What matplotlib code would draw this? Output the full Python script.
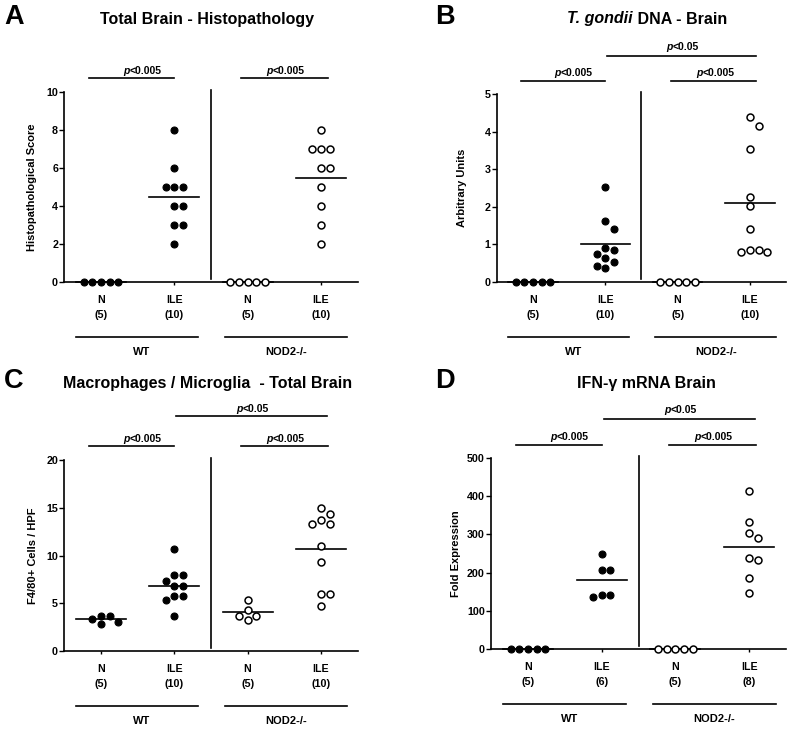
import numpy as np
import matplotlib
matplotlib.use('Agg')
import matplotlib.pyplot as plt
from matplotlib.transforms import blended_transform_factory

plt.rcParams['font.family'] = ['Liberation Sans', 'DejaVu Sans']

# ---------------- data ----------------
group_labels = ['N', 'ILE', 'N', 'ILE']
strain_labels = ['WT', 'NOD2-/-']

# A: Total Brain - Histopathology (score)
a_wt_n = [0, 0, 0, 0, 0]
a_wt_ile = [8, 6, 5, 5, 5, 4, 4, 3, 3, 2]
a_ko_n = [0, 0, 0, 0, 0]
a_ko_ile = [8, 7, 7, 7, 6, 6, 5, 4, 3, 2]

# B: T. gondii DNA - Brain (arbitrary units)
b_wt_n = [0, 0, 0, 0, 0]
b_wt_ile = [2.52, 1.63, 1.42, 0.90, 0.84, 0.75, 0.65, 0.53, 0.43, 0.36]
b_ko_n = [0, 0, 0, 0, 0]
b_ko_ile = [4.38, 4.16, 3.53, 2.25, 2.01, 1.42, 0.84, 0.84, 0.80, 0.80]

# C: F4/80+ cells / HPF
c_wt_n = [3.7, 3.7, 3.4, 3.0, 2.8]
c_wt_ile = [10.7, 8.0, 8.0, 7.3, 6.8, 6.8, 5.8, 5.8, 5.3, 3.7]
c_ko_n = [5.35, 4.34, 3.67, 3.67, 3.29]
c_ko_ile = [15.0, 14.34, 13.7, 13.3, 13.3, 10.98, 9.3, 6.0, 6.0, 4.72]

# D: IFN-gamma mRNA (fold expression)
d_wt_n = [1, 1, 1, 1, 1]
d_wt_ile = [250, 207, 207, 142, 137, 142]
d_ko_n = [1, 1, 1, 1, 1]
d_ko_ile = [414, 332, 304, 291, 233, 237, 186, 146]

W, H, DPI = 792, 731, 100
fig = plt.figure(figsize=(W / DPI, H / DPI), dpi=DPI)
renderer = fig.canvas.get_renderer()

panels = [
    dict(letter='A', data=[a_wt_n, a_wt_ile, a_ko_n, a_ko_ile], ymax=10, step=2,
         ylabel='Histopathological Score',
         geom=(64.3, 293.3, 92, 282), title=[('Total Brain - Histopathology', 'normal')],
         title_xc=207, title_base=24, letter_xy=(4, 24.3), ylab_x=32,
         low=(13.7, 17.5), top=None),
    dict(letter='B', data=[b_wt_n, b_wt_ile, b_ko_n, b_ko_ile], ymax=5, step=1,
         ylabel='Arbitrary Units',
         geom=(496.8, 289.3, 94, 282), title=[('T. gondii', 'italic'), (' DNA - Brain', 'normal')],
         title_xc=647, title_base=23.5, letter_xy=(435, 24.3), ylab_x=462,
         low=(13, 17.5), top=(38, 44)),
    dict(letter='C', data=[c_wt_n, c_wt_ile, c_ko_n, c_ko_ile], ymax=20, step=5,
         ylabel='F4/80+ Cells / HPF',
         geom=(64.3, 293.3, 460, 651), title=[('Macrophages / Microglia  - Total Brain', 'normal')],
         title_xc=207.5, title_base=388.3, letter_xy=(4, 388.5), ylab_x=33.5,
         low=(14, 17.5), top=(44, 48.3)),
    dict(letter='D', data=[d_wt_n, d_wt_ile, d_ko_n, d_ko_ile], ymax=500, step=100,
         ylabel='Fold Expression',
         geom=(491.2, 294.7, 458, 649), title=[('IFN-\u03b3 mRNA Brain', 'normal')],
         title_xc=646, title_base=387.7, letter_xy=(435, 388.5), ylab_x=456,
         low=(13, 18), top=(39, 45)),
]


def ftext(x_px, y_px, s, **kw):
    return fig.text(x_px / W, 1 - y_px / H, s, **kw)


def mixed(xc, ybase, parts, size):
    texts, widths = [], []
    for s, st in parts:
        t = ftext(0, ybase, s, fontsize=size, fontweight='bold', fontstyle=st,
                  ha='left', va='baseline')
        widths.append(t.get_window_extent(renderer).width)
        texts.append(t)
    x = xc - sum(widths) / 2
    for t, w in zip(texts, widths):
        t.set_position((x / W, 1 - ybase / H))
        x += w


def swarm(vals, ppx, ppy, step_px=8.7):
    placed = []
    offs = [0.0] * len(vals)
    order = sorted(range(len(vals)), key=lambda i: -vals[i])
    cands = [0, 1, -1, 2, -2, 3, -3, 4, -4]
    for i in order:
        y = vals[i] * ppy
        x = 0.0
        for c in cands:
            x = c * step_px
            if all(np.hypot(x - px, y - py) >= step_px - 0.2 for px, py in placed):
                break
        placed.append((x, y))
        offs[i] = x / ppx
    return offs


for p in panels:
    left, width, top, bottom = p['geom']
    hpx = bottom - top
    ax = fig.add_axes([left / W, 1 - bottom / H, width / W, hpx / H])
    ymax = p['ymax']
    ax.set_xlim(-0.5, 3.5)
    ax.set_ylim(0, ymax)
    ppx = width / 4.0
    ppy = hpx / ymax
    for s in ['top', 'right']:
        ax.spines[s].set_visible(False)
    for s in ['left', 'bottom']:
        ax.spines[s].set_linewidth(1.2)
    ax.set_yticks(np.arange(0, ymax + p['step'] / 2, p['step']))
    ax.set_yticklabels([f'{v:g}' for v in np.arange(0, ymax + p['step'] / 2, p['step'])])
    ax.tick_params(axis='y', direction='out', length=3.3, width=1.0, pad=1.2,
                   labelsize=7.7)
    ax.set_xticks(range(4))
    ax.set_xticklabels([f'{g}\n({len(v)})' for g, v in zip(group_labels, p['data'])],
                       linespacing=1.55)
    ax.tick_params(axis='x', direction='out', length=2.5, width=1.0, pad=7,
                   labelsize=7.7)
    for lab in ax.get_xticklabels() + ax.get_yticklabels():
        lab.set_fontweight('bold')

    for gi, vals in enumerate(p['data']):
        offs = swarm(vals, ppx, ppy)
        xs = [gi + o for o in offs]
        if gi < 2:
            ax.plot(xs, vals, 'o', ms=5.0, mfc='black', mec='black', mew=0.8,
                    clip_on=False, zorder=4, linestyle='none')
        else:
            ax.plot(xs, vals, 'o', ms=5.0, mfc='white', mec='black', mew=1.1,
                    clip_on=False, zorder=4, linestyle='none')
        m = float(np.mean(vals))
        ax.plot([gi - 0.34, gi + 0.34], [m, m], color='black', lw=1.2,
                clip_on=False, zorder=3)

    # divider
    ax.plot([1.5, 1.5], [ymax * 0.016, ymax * 1.0105], color='black', lw=1.2,
            clip_on=False)

    # y label
    ftext(p['ylab_x'], (top + bottom) / 2, p['ylabel'], rotation=90, fontsize=8,
          fontweight='bold', ha='center', va='center')

    def xpx(x):
        return left + (x + 0.5) * ppx

    def hline(x0, x1, ypx):
        fig.add_artist(plt.Line2D([xpx(x0) / W, xpx(x1) / W],
                                  [1 - ypx / H, 1 - ypx / H], color='black',
                                  lw=1.2, transform=fig.transFigure))

    # significance bars
    lb, lt = p['low']
    hline(-0.16, 1.0, top - lb)
    hline(1.91, 3.09, top - lb)
    mixed(xpx(0.56), top - lt, [('p', 'italic'), ('<0.005', 'normal')], 7.5)
    mixed(xpx(2.52), top - lt, [('p', 'italic'), ('<0.005', 'normal')], 7.5)
    if p['top'] is not None:
        tb, tt = p['top']
        hline(1.03, 3.08, top - tb)
        mixed(xpx(2.07), top - tt, [('p', 'italic'), ('<0.05', 'normal')], 7.5)

    # strain group lines
    hline(-0.34, 1.33, bottom + 55)
    hline(1.69, 3.36, bottom + 55)
    ftext(xpx(0.56), bottom + 70, strain_labels[0], fontsize=8, fontweight='bold',
          ha='center', va='center')
    ftext(xpx(2.53), bottom + 70, strain_labels[1], fontsize=8, fontweight='bold',
          ha='center', va='center')

    # title and panel letter
    mixed(p['title_xc'], p['title_base'], p['title'], 11.5)
    lx, ly = p['letter_xy']
    ftext(lx, ly, p['letter'], fontsize=19.5, fontweight='bold', ha='left',
          va='baseline')

fig.savefig('out.png', dpi=DPI)
